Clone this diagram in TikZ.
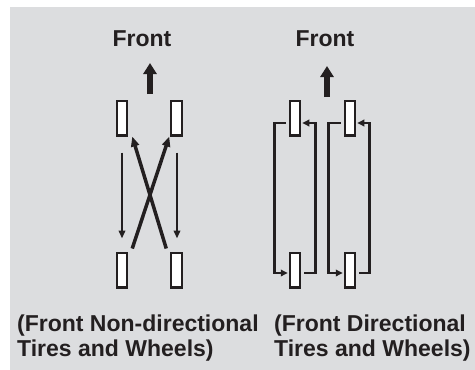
\documentclass[tikz,border=0pt]{standalone}
\usepackage{fontspec}
\setmainfont{Liberation Sans}
\usetikzlibrary{arrows.meta,calc}
\definecolor{bg}{RGB}{220,221,223}
\definecolor{ink}{RGB}{35,31,32}
\begin{document}
\begin{tikzpicture}[x=1pt,y=-1pt,
  wheel/.style={draw=ink,fill=white,line width=2.2pt,minimum width=10.3pt,minimum height=34.8pt,inner sep=0pt},
  lbl/.style={font=\fontsize{23}{25}\selectfont\bfseries,text=ink,inner sep=0pt},
  bigarrow/.style={draw=ink,line width=6pt,-{Triangle[length=11pt,width=13pt]}},
  thinarrow/.style={draw=ink,line width=2.8pt,-{Triangle[length=8pt,width=6.5pt]}},
  crossarrow/.style={draw=ink,line width=3.5pt,-{Triangle[length=10pt,width=8pt]}},
  loopline/.style={draw=ink,line width=2.6pt,-{Triangle[length=7pt,width=6.5pt]}}]
\path[use as bounding box] (0,0) rectangle (475,370);
\fill[bg] (10,7) rectangle (475,370);

% labels
\node[lbl,anchor=base] (f1) at (142,46) {Front};
\node[lbl,anchor=base] (f2) at (325,46) {Front};
\node[lbl,anchor=base west] (t1a) at (17,331) {(Front Non-directional};
\node[lbl,anchor=base west] (t1b) at (17,356) {Tires and Wheels)};
\node[lbl,anchor=base west] (t2a) at (274,331) {(Front Directional};
\node[lbl,anchor=base west] (t2b) at (274,356) {Tires and Wheels)};

% front arrows
\coordinate (fa0) at (150,94);
\coordinate (fa1) at (150,63);
\draw[bigarrow] (fa0) -- (fa1);
\coordinate (fb0) at (327,97);
\coordinate (fb1) at (327,66);
\draw[bigarrow] (fb0) -- (fb1);

% left diagram wheels
\node[wheel] (a1) at (122,118) {};
\node[wheel] (a2) at (176.5,118) {};
\node[wheel] (a3) at (122,270) {};
\node[wheel] (a4) at (176.5,270) {};

% left diagram arrows
\draw[thinarrow] ($(a1.south)+(0,16)$) -- ($(a3.north)+(0,-13)$);
\draw[thinarrow] ($(a2.south)+(0.5,16)$) -- ($(a4.north)+(0.5,-13)$);
\draw[crossarrow] ($(a3.north east)+(4,-3)$) -- ($(a2.south west)+(-1,0)$);
\draw[crossarrow] ($(a4.north west)+(-4,-3)$) -- ($(a1.south east)+(4,0)$);

% right diagram wheels
\node[wheel] (b1) at (295,118) {};
\node[wheel] (b2) at (350,118) {};
\node[wheel] (b3) at (295,270) {};
\node[wheel] (b4) at (350,270) {};

% right diagram loops
\draw[loopline] ($(b1.west)+(-3,5)$) -- ++(-11,0) |- ($(b3.west)+(-1,3)$);
\draw[loopline] ($(b3.east)+(3,3)$) -- ++(11,0) |- ($(b1.east)+(1,5)$);
\draw[loopline] ($(b2.west)+(-3,5)$) -- ++(-12,0) |- ($(b4.west)+(-1,3)$);
\draw[loopline] ($(b4.east)+(3,3)$) -- ++(10,0) |- ($(b2.east)+(1,5)$);
\end{tikzpicture}
\end{document}
